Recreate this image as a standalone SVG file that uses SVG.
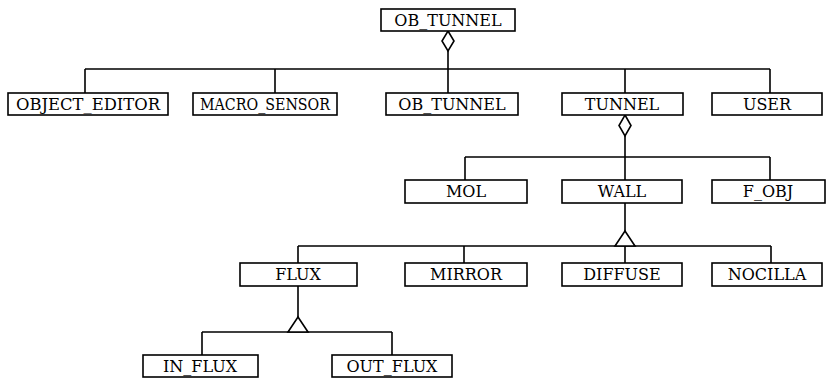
<svg xmlns="http://www.w3.org/2000/svg" width="829" height="382" viewBox="0 0 829 382">
<style>
.box{fill:#fff;stroke:#000;stroke-width:1.6}
.lbl{font-family:"DejaVu Serif","Liberation Serif",serif;font-size:16px;fill:#000;text-anchor:middle}
.ln{fill:none;stroke:#000;stroke-width:1.6}
.agg{fill:#fff;stroke:#000;stroke-width:1.6}
</style>
<rect width="829" height="382" fill="#fff"/>
<g id="connectors">
<path class="ln" d="M448 51V93M85 69H770M85 69V93M275 69V93M625 69V93M770 69V93"/>
<path class="ln" d="M625 136V180M465 157H770M465 157V180M770 157V180"/>
<path class="ln" d="M625 203V231M298 246H771M298 246V263M464 246V263M625 246V263M771 246V263"/>
<path class="ln" d="M298 286V317M202 332H392M202 332V355M392 332V355"/>
<polygon class="agg" points="448,31 454,41 448,51 442,41"/>
<polygon class="agg" points="625,115 631,125.5 625,136 619,125.5"/>
<polygon class="agg" points="625,231 635,246 615,246"/>
<polygon class="agg" points="298,317 308,332 288,332"/>
</g>
<g id="ob_tunnel_root"><rect class="box" x="381" y="9" width="134" height="22"/><text class="lbl" x="448" y="26">OB_TUNNEL</text></g>
<g id="object_editor"><rect class="box" x="8" y="93" width="160" height="22"/><text class="lbl" x="88" y="110" textLength="144" lengthAdjust="spacingAndGlyphs">OBJECT_EDITOR</text></g>
<g id="macro_sensor"><rect class="box" x="193" y="93" width="144" height="22"/><text class="lbl" x="265" y="110" textLength="130" lengthAdjust="spacingAndGlyphs">MACRO_SENSOR</text></g>
<g id="ob_tunnel"><rect class="box" x="386" y="93" width="132" height="22"/><text class="lbl" x="452" y="110">OB_TUNNEL</text></g>
<g id="tunnel"><rect class="box" x="562" y="93" width="121" height="22"/><text class="lbl" x="622" y="110">TUNNEL</text></g>
<g id="user"><rect class="box" x="712" y="93" width="110" height="22"/><text class="lbl" x="767" y="110">USER</text></g>
<g id="mol"><rect class="box" x="405" y="180" width="122" height="23"/><text class="lbl" x="466" y="197">MOL</text></g>
<g id="wall"><rect class="box" x="562" y="180" width="120" height="23"/><text class="lbl" x="622" y="197">WALL</text></g>
<g id="f_obj"><rect class="box" x="712" y="180" width="113" height="23"/><text class="lbl" x="768" y="197">F_OBJ</text></g>
<g id="flux"><rect class="box" x="240" y="263" width="117" height="23"/><text class="lbl" x="298" y="280">FLUX</text></g>
<g id="mirror"><rect class="box" x="405" y="263" width="122" height="23"/><text class="lbl" x="466" y="280">MIRROR</text></g>
<g id="diffuse"><rect class="box" x="562" y="263" width="120" height="23"/><text class="lbl" x="622" y="280">DIFFUSE</text></g>
<g id="nocilla"><rect class="box" x="712" y="263" width="110" height="23"/><text class="lbl" x="767" y="280">NOCILLA</text></g>
<g id="in_flux"><rect class="box" x="143" y="355" width="115" height="22"/><text class="lbl" x="200" y="372">IN_FLUX</text></g>
<g id="out_flux"><rect class="box" x="332" y="355" width="120" height="22"/><text class="lbl" x="392" y="372">OUT_FLUX</text></g>
</svg>
